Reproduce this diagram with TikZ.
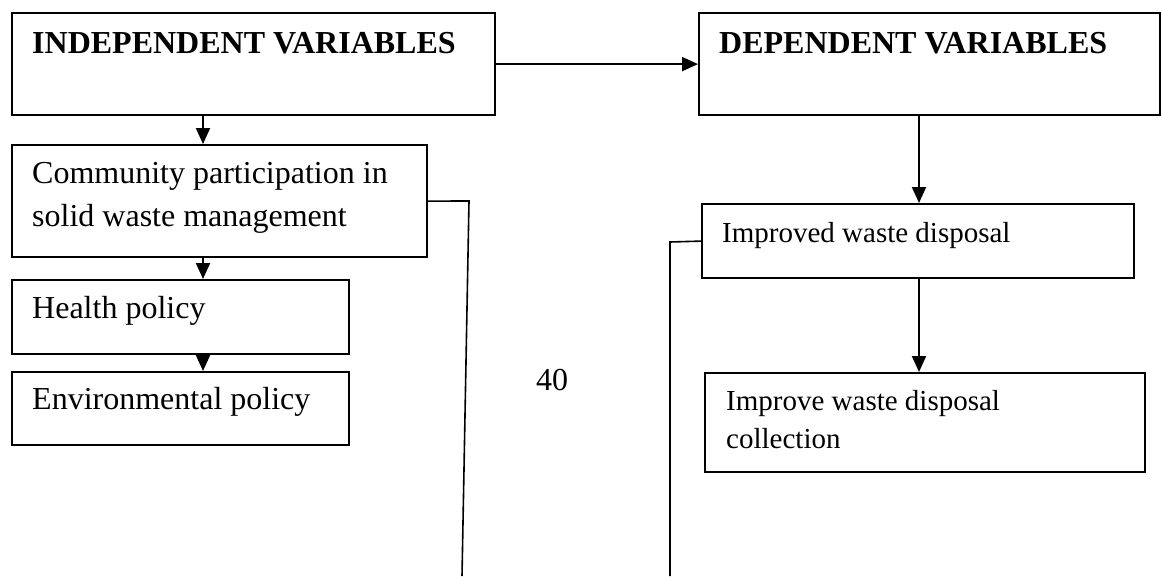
\documentclass[tikz,border=0pt]{standalone}
\usepackage{fontspec}
\setmainfont{Liberation Serif}
\usetikzlibrary{arrows.meta, positioning, calc}
\tikzset{
  varbox/.style={draw=black, line width=2.2pt, inner sep=0pt, anchor=north west},
  boxtext/.style={anchor=base west, inner sep=0pt, align=left,
                  font=\fontsize{32}{43}\selectfont},
  smalltext/.style={boxtext, font=\fontsize{29}{38}\selectfont},
  headtext/.style={boxtext, font=\fontsize{32}{43}\selectfont\bfseries},
  flow/.style={line width=2pt, -{Triangle[length=16pt, width=14pt]}},
  link/.style={line width=1.6pt},
}
\begin{document}
\begin{tikzpicture}[x=1pt, y=-1pt]
    \useasboundingbox (0,0) rectangle (1161,576);
    % Boxes
    \node[varbox, minimum width=483pt, minimum height=102pt] (iv)   at (11,12)   {};
    \node[varbox, minimum width=461pt, minimum height=102pt] (dv)   at (698,12)  {};
    \node[varbox, minimum width=415pt, minimum height=112pt] (cp)   at (11,144)  {};
    \node[varbox, minimum width=337pt, minimum height=74pt]  (hp)   at (11,279)  {};
    \node[varbox, minimum width=337pt, minimum height=73pt]  (ep)   at (11,371)  {};
    \node[varbox, minimum width=432pt, minimum height=74pt]  (iwd)  at (701,203) {};
    \node[varbox, minimum width=440pt, minimum height=99pt]  (iwdc) at (704,372) {};
    % Box texts (multi-line ones sit on their last baseline)
    \node[headtext] (ivtext) at (32,53)  {INDEPENDENT VARIABLES};
    \node[headtext] (dvtext) at (719,53) {DEPENDENT VARIABLES};
    \node[boxtext]  (cptext) at (32,226) {Community participation in\\solid waste management};
    \node[boxtext]  (hptext) at (32,318) {Health policy};
    \node[boxtext]  (eptext) at (32,409) {Environmental policy};
    \node[smalltext] (iwdtext)  at (722,242) {Improved waste disposal};
    \node[smalltext] (iwdctext) at (726,448) {Improve waste disposal\\collection};
    % Spines of the vertical arrows
    \coordinate (lspine) at (203,0);
    \coordinate (rspine) at (919,0);
    % Arrows
    \draw[flow] (iv) -- (dv);
    \draw[flow] (iv.south -| lspine) -- (cp.north -| lspine);
    \draw[flow] (cp.south -| lspine) -- (hp.north -| lspine);
    \draw[flow] (hp.south -| lspine) -- (ep.north -| lspine);
    \draw[flow] (dv.south -| rspine) -- (iwd.north -| rspine);
    \draw[flow] (iwd.south -| rspine) -- (iwdc.north -| rspine);
    % Open lines to the bottom edge
    \coordinate (cpbend) at (469,201);
    \coordinate (cpend)  at (462,576);
    \draw[link] (cp.east) -- (cpbend) -- (cpend);
    \coordinate (iwdbend) at (670,242);
    \coordinate (iwdend)  at (670,576);
    \draw[link] (iwd.west) -- (iwdbend) -- (iwdend);
    % Page number
    \node[boxtext, anchor=base] (pagenum) at (552,390) {40};
\end{tikzpicture}
\end{document}
